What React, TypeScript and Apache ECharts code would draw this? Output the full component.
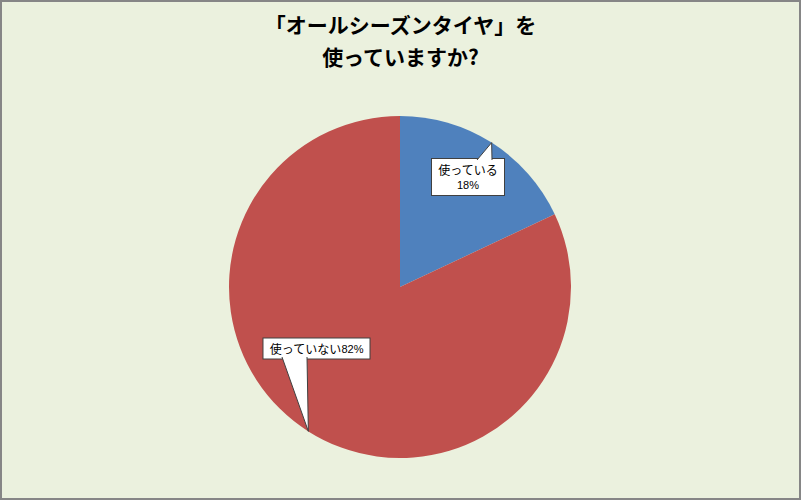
import React, { useEffect, useRef } from 'react';
import * as echarts from 'echarts';

const titleLines = ['「オールシーズンタイヤ」を', '使っていますか?'];
const categories = ['使っている', '使っていない'];
const values = [18, 82];
const sliceColors = ['#4F81BD', '#C0504D'];

// callout box centres and pointer bases (pixels)
const CX = 400;
const CY = 287;
const R = 171;
const calloutCenters = [[468, 177], [316.5, 348.5]];
const pointerBases = [[[477, 160], [492, 160]], [[282, 357], [307, 357]]];

const App: React.FC = () => {
    const chartRef = useRef<HTMLDivElement>(null);

    useEffect(() => {
        if (!chartRef.current) return;
        const myChart = echarts.init(chartRef.current, null, { renderer: 'svg' });

        const total = values.reduce((a, b) => a + b, 0);
        let cum = 0;
        const tips = values.map(v => {
            const mid = (cum + v / 2) / total * Math.PI * 2;
            cum += v;
            return [CX + R * Math.sin(mid), CY - R * Math.cos(mid)];
        });

        const pointers: any[] = [];
        tips.forEach((tip, i) => {
            const [b1, b2] = pointerBases[i];
            pointers.push({
                type: 'polygon',
                z: 100,
                shape: { points: [b1, tip, b2] },
                style: { fill: '#fff', stroke: 'none' }
            });
            pointers.push({
                type: 'polyline',
                z: 101,
                shape: { points: [b1, tip, b2] },
                style: { fill: 'none', stroke: '#404040', lineWidth: 1 }
            });
        });

        const titleStyle = {
            fontFamily: '"Noto Sans CJK JP", sans-serif',
            fontSize: 21,
            fontWeight: 'bold' as const,
            color: '#000'
        };

        const option: echarts.EChartsOption = {
            animation: false,
            backgroundColor: '#EBF1DE',
            title: titleLines.map((t, i) => ({
                text: t,
                left: 'center',
                top: 13 + i * 32,
                padding: 0,
                textStyle: titleStyle
            })),
            graphic: [
                {
                    type: 'rect',
                    z: 200,
                    shape: { x: 1, y: 1, width: 799, height: 498 },
                    style: { fill: 'none', stroke: '#868686', lineWidth: 2 }
                },
                ...pointers
            ],
            series: [
                {
                    type: 'pie',
                    center: [CX, CY],
                    radius: R,
                    startAngle: 90,
                    clockwise: true,
                    percentPrecision: 0,
                    data: categories.map((name, i) => ({
                        name,
                        value: values[i],
                        itemStyle: { color: sliceColors[i] }
                    })),
                    label: {
                        show: true,
                        formatter: (p: any) => p.dataIndex === 0
                            ? `${p.name}\n{p|${p.percent}%}`
                            : `${p.name}{p|${p.percent}%}`,
                        fontFamily: '"Noto Sans CJK JP", sans-serif',
                        fontSize: 12,
                        color: '#000',
                        lineHeight: 16,
                        backgroundColor: '#fff',
                        borderColor: '#404040',
                        borderWidth: 1,
                        padding: [2, 6, 2, 6],
                        align: 'center',
                        rich: {
                            p: { fontSize: 11, color: '#000', lineHeight: 16, fontFamily: 'Arial, sans-serif' }
                        }
                    },
                    labelLine: { show: false },
                    labelLayout: (params: any) => ({
                        x: calloutCenters[params.dataIndex][0],
                        y: calloutCenters[params.dataIndex][1],
                        align: 'center',
                        verticalAlign: 'middle'
                    }),
                    emphasis: { disabled: true }
                }
            ]
        };

        myChart.setOption(option);
        return () => {
            myChart.dispose();
        };
    }, []);

    return (
        <div ref={chartRef} style={{ position: 'fixed', left: 0, top: 0, width: 801, height: 500 }} />
    );
};

export default App;
